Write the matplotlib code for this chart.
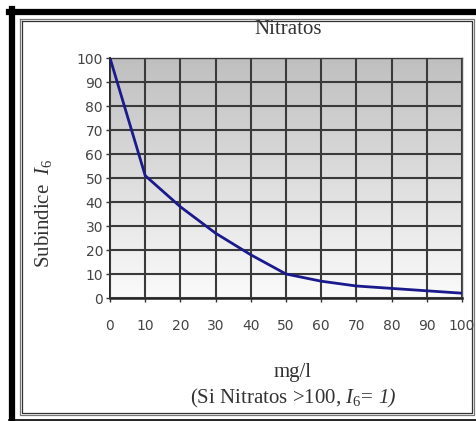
import numpy as np
import matplotlib
matplotlib.use('Agg')
import matplotlib.pyplot as plt
from matplotlib.lines import Line2D
from matplotlib.colors import LinearSegmentedColormap

# datos
nitratos = [0, 10, 20, 30, 40, 50, 60, 70, 80, 90, 100]
subindice = [100, 51, 38, 27, 18, 10, 7, 5, 4, 3, 2]
xticks = list(range(0, 101, 10))
yticks = list(range(0, 101, 10))

plt.rcParams['mathtext.fontset'] = 'custom'
plt.rcParams['mathtext.rm'] = 'Liberation Serif'
plt.rcParams['mathtext.it'] = 'Liberation Serif:italic'
W, H = 476, 421
fig = plt.figure(figsize=(W / 100, H / 100), dpi=100)


def fx(px):
    return px / W


def fy(py):
    return (H - py) / H


# marcos
fig.add_artist(Line2D([fx(12), fx(12)], [fy(9), fy(421)], color='black', lw=4.5,
                      transform=fig.transFigure))
fig.add_artist(Line2D([fx(9), fx(476)], [fy(12), fy(12)], color='black', lw=4.5,
                      transform=fig.transFigure))
fig.add_artist(Line2D([fx(9), fx(476)], [fy(419.5), fy(419.5)], color='black', lw=1.2,
                      transform=fig.transFigure))
for off, c in [(0, '#777777'), (2, '#333333')]:
    xs = [fx(20 + off), fx(474 - off), fx(474 - off), fx(20 + off), fx(20 + off)]
    ys = [fy(19 + off), fy(19 + off), fy(415 - off), fy(415 - off), fy(19 + off)]
    fig.add_artist(Line2D(xs, ys, color=c, lw=0.9, transform=fig.transFigure))

ax = fig.add_axes([fx(110), fy(298), fx(462) - fx(110), fy(58) - fy(298)])
grad = np.linspace(0, 1, 256).reshape(-1, 1)
ax.imshow(grad, extent=[0, 1, 0, 1], transform=ax.transAxes, aspect='auto',
          cmap=LinearSegmentedColormap.from_list('g', ['#fbfbfb', '#bfbfbf']),
          origin='lower', zorder=0)

ax.plot(nitratos, subindice, color='#1a1a8c', lw=2, zorder=3)
ax.set_xlim(0, 100)
ax.set_ylim(0, 100)
ax.set_xticks(xticks)
ax.set_yticks(yticks)
ax.grid(True, color='#3a3a3a', lw=1.5, zorder=1)
ax.set_axisbelow(False)
for s in ax.spines.values():
    s.set_color('#555555')
    s.set_linewidth(1.0)
ax.spines['bottom'].set_color('#222222')
ax.spines['bottom'].set_linewidth(1.8)
ax.spines['left'].set_color('#222222')
ax.spines['left'].set_linewidth(1.4)
ax.tick_params(direction='out', length=3, width=1, color='#333333',
               labelsize=10, labelcolor='#444444', pad=2)
ax.tick_params(axis='x', pad=12)

fig.text(fx(288), fy(30), 'Nitratos', family='Liberation Serif', fontsize=15,
         color='#333333', ha='center', va='center')
fig.text(fx(44), fy(213), r'Subindice  $I_6$', family='Liberation Serif', fontsize=15,
         color='#333333', ha='center', va='center', rotation=90)
fig.text(fx(293), fy(372), 'mg/l', family='Liberation Serif', fontsize=15,
         color='#333333', ha='center', va='center')

# nota: la parte "1)" va en cursiva
t1 = fig.text(0, fy(397), r'(Si Nitratos >100, $I_6$=', family='Liberation Serif',
              fontsize=15, color='#333333', ha='left', va='baseline')
t2 = fig.text(0, fy(397), '1)', family='Liberation Serif', style='italic',
              fontsize=15, color='#333333', ha='left', va='baseline')
r = fig.canvas.get_renderer()
w1 = t1.get_window_extent(r).width
w2 = t2.get_window_extent(r).width
gap = 5
x0 = 293 - (w1 + gap + w2) / 2
t1.set_position((fx(x0), fy(403)))
t2.set_position((fx(x0 + w1 + gap), fy(403)))

fig.savefig('out.png', dpi=100)
